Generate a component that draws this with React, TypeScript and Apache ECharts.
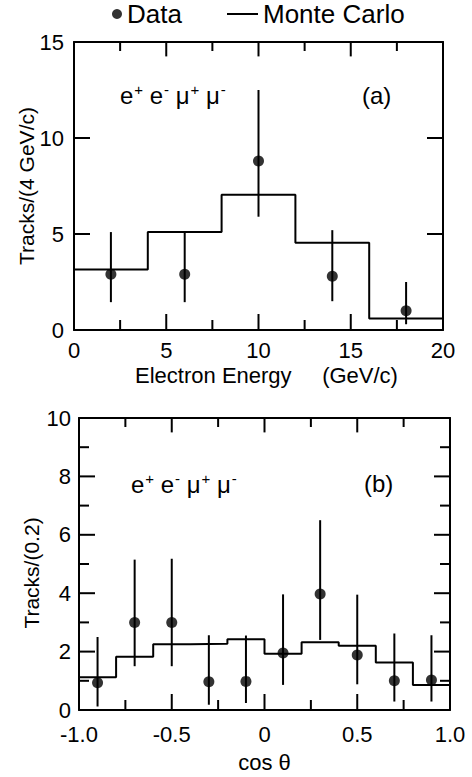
import React, { useEffect, useRef } from 'react';
import * as echarts from 'echarts';

// ---- Panel (a): electron energy ----
const energyEdges = [0, 4, 8, 12, 16, 20];
const energyMC = [3.15, 5.1, 7.05, 4.55, 0.6];
const energyX = [2, 6, 10, 14, 18];
const energyData = [2.9, 2.9, 8.8, 2.8, 1.0];
const energyErrLow = [1.45, 1.45, 5.9, 1.5, 0.3];
const energyErrHigh = [5.1, 5.1, 12.5, 5.2, 2.5];
const energyXRange = [0, 20];
const energyYRange = [0, 15];
const energyMajorX = [5, 10, 15];
const energyMinorX = [2.5, 7.5, 12.5, 17.5];
const energyMajorY = [5, 10];
const energyMinorY: number[] = [];

// ---- Panel (b): cos theta ----
const cosEdges = [-1, -0.8, -0.6, -0.4, -0.2, 0, 0.2, 0.4, 0.6, 0.8, 1];
const cosMC = [1.12, 1.82, 2.25, 2.27, 2.42, 1.93, 2.32, 2.2, 1.63, 0.86];
const cosX = [-0.9, -0.7, -0.5, -0.3, -0.1, 0.1, 0.3, 0.5, 0.7, 0.9];
const cosData = [0.93, 3.0, 3.0, 0.97, 0.98, 1.95, 3.97, 1.88, 1.0, 1.03];
const cosErrLow = [0.12, 1.5, 1.5, 0.18, 0.24, 0.86, 2.4, 0.88, 0.29, 0.29];
const cosErrHigh = [2.5, 5.15, 5.18, 2.56, 2.55, 3.96, 6.5, 3.95, 2.62, 2.56];
const cosXRange = [-1, 1];
const cosYRange = [0, 10];
const cosMajorX = [-0.5, 0, 0.5];
const cosMinorX = [-0.75, -0.25, 0.25, 0.75];
const cosMajorY = [2, 4, 6, 8];
const cosMinorY = [1, 3, 5, 7, 9];

const FONT = "'Liberation Sans', Arial, Helvetica, sans-serif";
const BLACK = '#000';

function histData(edges: number[], vals: number[]) {
  return edges.map((e, i) => [e, vals[Math.min(i, vals.length - 1)]]);
}
function errData(xs: number[], lo: number[], hi: number[]) {
  return xs.map((x, i) => [x, lo[i], hi[i]]);
}

function axis(gridIndex: number, position: string, range: number[], interval: number, opts: any) {
  const a: any = {
    type: 'value', gridIndex, position, min: range[0], max: range[1], interval,
    axisLine: { show: true, onZero: false, lineStyle: { color: BLACK, width: 2 } },
    axisTick: { show: false },
    splitLine: { show: false },
    axisLabel: { show: !!opts.labels, color: BLACK, fontSize: 22, fontFamily: FONT, margin: opts.margin ?? 9, formatter: opts.formatter },
  };
  if (opts.name) {
    a.name = opts.name; a.nameLocation = 'middle'; a.nameGap = opts.nameGap; a.nameMoveOverlap = false;
    a.nameTextStyle = { color: BLACK, fontSize: opts.nameSize ?? 22, fontFamily: FONT, padding: opts.namePadding };
  }
  return a;
}

function errorSeries(xi: number, yi: number, data: number[][]) {
  return {
    type: 'custom', xAxisIndex: xi, yAxisIndex: yi, z: 3, encode: { x: 0, y: [1, 2] }, data,
    renderItem: (params: any, api: any) => {
      const x = api.value(0);
      const p1 = api.coord([x, api.value(1)]);
      const p2 = api.coord([x, api.value(2)]);
      return { type: 'line', shape: { x1: p1[0], y1: p1[1], x2: p2[0], y2: p2[1] }, style: { stroke: BLACK, lineWidth: 2 } };
    },
  };
}

// Inward frame ticks on all four sides; pixel positions come from the chart's own axis scales.
function buildTicks(chart: any, xi: number, yi: number, xr: number[], yr: number[], xMaj: number[], xMin: number[], yMaj: number[], yMin: number[], majLen: number, minLen: number) {
  const finder = { xAxisIndex: xi, yAxisIndex: yi };
  const els: any[] = [];
  const seg = (x1: number, y1: number, x2: number, y2: number) => ({
    type: 'line', silent: true, z: 100, shape: { x1, y1, x2, y2 }, style: { stroke: BLACK, lineWidth: 2 },
  });
  const addX = (vals: number[], len: number) => vals.forEach((v) => {
    const b = chart.convertToPixel(finder, [v, yr[0]]);
    const t = chart.convertToPixel(finder, [v, yr[1]]);
    els.push(seg(b[0], b[1], b[0], b[1] - len));
    els.push(seg(t[0], t[1], t[0], t[1] + len * 0.9));
  });
  const addY = (vals: number[], len: number) => vals.forEach((v) => {
    const l = chart.convertToPixel(finder, [xr[0], v]);
    const r = chart.convertToPixel(finder, [xr[1], v]);
    els.push(seg(l[0], l[1], l[0] + len, l[1]));
    els.push(seg(r[0], r[1], r[0] - len, r[1]));
  });
  addX(xMaj, majLen);
  addX(xMin, minLen);
  addY(yMaj, majLen);
  addY(yMin, minLen);
  return els;
}

const sup = (s: string) => `{s|${s}}`;
const base = (s: string) => `{b|${s}}`;
const reactionText = base('e') + sup('+') + base(' e') + sup('-') + base(' μ') + sup('+') + base(' μ') + sup('-');
const reactionRich = {
  b: { fontSize: 24, fontFamily: FONT, fill: BLACK, color: BLACK },
  s: { fontSize: 15, fontFamily: FONT, fill: BLACK, color: BLACK, padding: [0, 0, 11, 1] },
};

const textGraphics = [
  { type: 'text', x: 120, y: 95, style: { text: reactionText, rich: reactionRich, verticalAlign: 'middle', fill: BLACK } },
  { type: 'text', x: 362, y: 95, style: { text: '(a)', font: `24px ${FONT}`, fill: BLACK, verticalAlign: 'middle' } },
  { type: 'text', x: 131, y: 484, style: { text: reactionText, rich: reactionRich, verticalAlign: 'middle', fill: BLACK } },
  { type: 'text', x: 364, y: 483, style: { text: '(b)', font: `24px ${FONT}`, fill: BLACK, verticalAlign: 'middle' } },
];

export default function App() {
  const ref = useRef<HTMLDivElement>(null);
  useEffect(() => {
    document.body.style.margin = '0';
    if (!ref.current) return;
    const chart = echarts.init(ref.current, null, { renderer: 'svg' });
    const option: any = {
      animation: false,
      backgroundColor: '#fff',
      textStyle: { fontFamily: FONT, color: BLACK },
      legend: [
        { data: [{ name: 'Data', icon: 'circle' }], left: 112, top: 1, padding: 0, itemWidth: 10, itemHeight: 10, selectedMode: false, textStyle: { fontSize: 26, color: BLACK, fontFamily: FONT } },
        { data: [{ name: 'Monte Carlo', icon: 'rect' }], left: 227, top: 1, padding: 0, itemWidth: 31, itemHeight: 2, selectedMode: false, textStyle: { fontSize: 26, color: BLACK, fontFamily: FONT } },
      ],
      grid: [
        { left: 74, top: 42, width: 369, height: 288 },
        { left: 79, top: 418, width: 371, height: 292 },
      ],
      xAxis: [
        axis(0, 'bottom', energyXRange, 5, { labels: true, margin: 9, name: 'Electron Energy     (GeV/c)', nameGap: 34, namePadding: [0, 0, 0, 16] }),
        axis(0, 'top', energyXRange, 5, {}),
        axis(1, 'bottom', cosXRange, 0.5, { labels: true, margin: 13, formatter: (v: number) => (v === 0 ? '0' : v.toFixed(1)), name: 'cos θ', nameGap: 41 }),
        axis(1, 'top', cosXRange, 0.5, {}),
      ],
      yAxis: [
        axis(0, 'left', energyYRange, 5, { labels: true, margin: 10, name: 'Tracks/(4 GeV/c)', nameGap: 37, nameSize: 21 }),
        axis(0, 'right', energyYRange, 5, {}),
        axis(1, 'left', cosYRange, 2, { labels: true, margin: 8, name: 'Tracks/(0.2)', nameGap: 37, nameSize: 21, namePadding: [0, 18, 0, 0] }),
        axis(1, 'right', cosYRange, 2, {}),
      ],
      graphic: textGraphics,
      series: [
        { name: 'Monte Carlo', type: 'line', xAxisIndex: 0, yAxisIndex: 0, step: 'end', symbol: 'none', z: 2, color: BLACK, lineStyle: { color: BLACK, width: 2 }, data: histData(energyEdges, energyMC) },
        errorSeries(0, 0, errData(energyX, energyErrLow, energyErrHigh)),
        { name: 'Data', type: 'scatter', xAxisIndex: 0, yAxisIndex: 0, symbol: 'circle', symbolSize: 11, z: 4, itemStyle: { color: BLACK }, data: energyX.map((x, i) => [x, energyData[i]]) },
        { name: 'Monte Carlo', type: 'line', xAxisIndex: 2, yAxisIndex: 2, step: 'end', symbol: 'none', z: 2, color: BLACK, lineStyle: { color: BLACK, width: 2 }, data: histData(cosEdges, cosMC) },
        errorSeries(2, 2, errData(cosX, cosErrLow, cosErrHigh)),
        { name: 'Data', type: 'scatter', xAxisIndex: 2, yAxisIndex: 2, symbol: 'circle', symbolSize: 11, z: 4, itemStyle: { color: BLACK }, data: cosX.map((x, i) => [x, cosData[i]]) },
      ],
    };
    chart.setOption(option);
    try {
      const ticks = [
        ...buildTicks(chart, 0, 0, energyXRange, energyYRange, energyMajorX, energyMinorX, energyMajorY, energyMinorY, 16, 10),
        ...buildTicks(chart, 2, 2, cosXRange, cosYRange, cosMajorX, cosMinorX, cosMajorY, cosMinorY, 16, 10),
      ].filter((e) => [e.shape.x1, e.shape.y1, e.shape.x2, e.shape.y2].every((n: number) => Number.isFinite(n)));
      chart.setOption({ graphic: [...textGraphics, ...ticks] });
    } catch (e) {
      // keep the chart as drawn if tick placement fails
    }
    return () => chart.dispose();
  }, []);
  return <div ref={ref} style={{ width: 472, height: 777 }} />;
}
